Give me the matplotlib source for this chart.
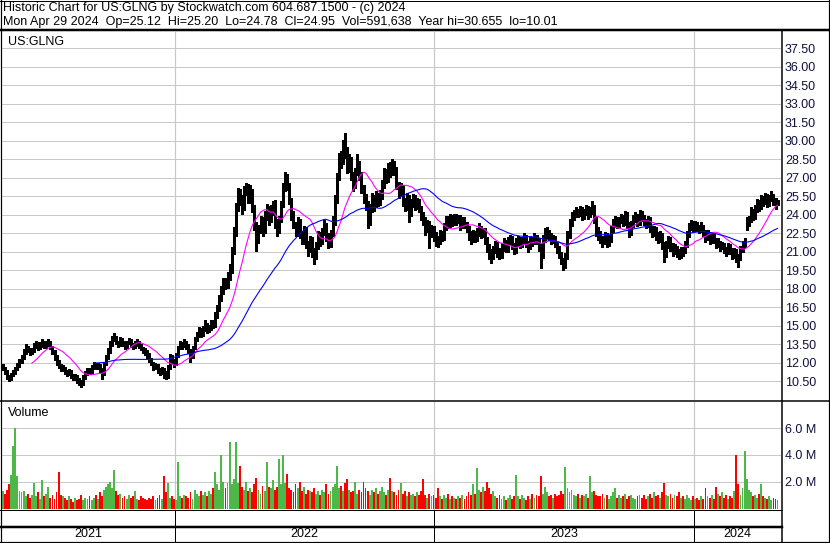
import numpy as np
import pandas as pd
import matplotlib
matplotlib.use('Agg')
import matplotlib.pyplot as plt
from matplotlib.lines import Line2D

plt.rcParams['font.family'] = ['Liberation Sans', 'DejaVu Sans']

# ---------------- text ----------------
title1 = "Historic Chart for US:GLNG by Stockwatch.com 604.687.1500 - (c) 2024"
title2 = ("Mon Apr 29 2024  Op=25.12  Hi=25.20  Lo=24.78  Cl=24.95  "
          "Vol=591,638  Year hi=30.655  lo=10.01")
symbol = "US:GLNG"
vol_title = "Volume"
year_labels = ["2021", "2022", "2023", "2024"]
# entry index (2 trading days per entry) where each new year starts
year_starts = [83.5, 209.2, 335.4]

price_ticks = [10.50, 12.00, 13.50, 15.00, 16.50, 18.00, 19.50, 21.00, 22.50,
               24.00, 25.50, 27.00, 28.50, 30.00, 31.50, 33.00, 34.50, 36.00, 37.50]
vol_ticks = [2.0, 4.0, 6.0]
vol_tick_labels = ["2.0 M", "4.0 M", "6.0 M"]

# ---------------- data (one entry = 2 trading days) ----------------
cl = [11.6, 11.3, 10.9, 10.7, 11.0, 11.2, 11.5, 11.8, 12.1, 12.4,
      12.9, 13.3, 13.1, 12.8, 13.0, 13.4, 13.6, 13.2, 13.5, 13.7,
      13.4, 13.6, 13.7, 13.3, 12.9, 12.4, 12.0, 11.8, 11.5, 11.6,
      11.3, 11.1, 11.3, 11.0, 10.8, 10.9, 10.6, 10.4, 10.3, 10.8,
      11.1, 11.4, 11.3, 11.6, 11.9, 11.7, 11.8, 11.5, 11.0, 11.9,
      12.4, 12.9, 13.5, 13.9, 14.1, 13.7, 13.5, 13.9, 13.6, 13.4,
      13.6, 13.8, 13.5, 13.3, 13.6, 13.7, 13.4, 13.2, 13.0, 12.9,
      12.7, 12.3, 12.0, 11.6, 11.8, 11.4, 11.2, 11.5, 11.0, 10.9,
      11.6, 12.4, 12.2, 11.9, 12.6, 13.2, 13.5, 13.4, 13.7, 13.3,
      13.0, 12.5, 13.2, 13.9, 14.2, 14.6, 14.3, 14.8, 15.1, 14.7,
      14.9, 15.3, 15.0, 15.8, 16.4, 17.2, 17.8, 18.6, 18.3, 19.0,
      19.5, 21.0, 22.5, 24.5, 25.8, 25.2, 24.6, 25.9, 26.3, 25.4,
      25.9, 24.6, 23.2, 22.0, 22.8, 23.5, 22.7, 23.9, 24.5, 23.6,
      24.3, 24.9, 23.4, 22.8, 23.6, 24.8, 26.2, 27.0, 26.4, 25.2,
      24.0, 23.1, 22.6, 23.5, 22.4, 21.9, 22.8, 21.6, 21.2, 22.0,
      21.0, 20.6, 21.5, 22.4, 21.8, 22.6, 23.1, 22.2, 21.7, 22.5,
      23.5, 25.2, 27.0, 28.6, 28.2, 29.6, 29.0, 27.8, 28.4, 27.2,
      26.5, 27.4, 28.0, 27.2, 26.1, 25.4, 24.8, 23.4, 24.5, 25.3,
      24.8, 25.5, 25.0, 25.6, 26.4, 27.3, 27.0, 27.8, 27.5, 28.1,
      27.6, 26.4, 25.8, 26.2, 25.0, 24.7, 25.4, 24.2, 24.9, 25.3,
      24.8, 25.1, 24.5, 24.0, 23.5, 22.8, 23.3, 22.4, 22.9, 22.3,
      22.0, 21.8, 22.5, 22.2, 23.0, 23.6, 23.2, 23.8, 23.4, 23.9,
      23.5, 23.8, 23.1, 23.6, 23.2, 22.9, 22.4, 22.0, 22.5, 22.1,
      22.6, 22.9, 22.4, 22.7, 21.9, 21.3, 20.8, 20.6, 21.2, 21.6,
      21.0, 20.7, 21.4, 21.8, 21.3, 21.9, 22.1, 21.5, 21.2, 21.8,
      22.0, 21.6, 21.9, 22.2, 21.7, 21.4, 22.0, 21.8, 22.2, 21.9,
      21.4, 20.6, 22.0, 22.4, 22.6, 22.3, 21.9, 22.1, 21.7, 21.3,
      20.8, 20.3, 19.9, 20.6, 22.4, 23.3, 23.8, 24.0, 24.3, 24.1,
      24.4, 23.9, 24.2, 24.5, 24.0, 24.3, 24.6, 23.6, 22.6, 22.4,
      22.0, 21.8, 22.3, 21.7, 22.1, 22.8, 23.3, 23.6, 23.2, 23.5,
      23.8, 23.4, 24.0, 23.1, 22.6, 23.2, 23.7, 23.9, 23.4, 24.1,
      23.8, 23.5, 23.2, 23.6, 22.9, 22.5, 22.8, 22.3, 22.0, 22.4,
      21.5, 20.8, 21.6, 22.0, 21.4, 21.0, 21.3, 20.9, 20.7, 21.1,
      21.0, 21.6, 22.4, 23.0, 23.3, 22.9, 23.2, 23.0, 22.8, 23.1,
      22.6, 22.2, 22.5, 21.9, 22.3, 22.0, 21.6, 21.8, 21.4, 21.5,
      21.2, 21.0, 21.4, 21.1, 20.7, 21.0, 20.5, 20.4, 21.2, 21.6,
      21.8, 23.3, 23.6, 24.2, 23.9, 24.4, 24.9, 24.6, 25.2, 25.0,
      25.4, 24.9, 25.3, 25.5, 25.1, 24.8, 24.95]

hi = [11.9, 11.7, 11.4, 11.0, 11.2, 11.4, 11.7, 12.0, 12.3, 12.6,
      13.1, 13.5, 13.4, 13.2, 13.2, 13.6, 13.8, 13.7, 13.7, 13.9,
      13.8, 13.8, 13.9, 13.8, 13.4, 13.0, 12.6, 12.2, 11.9, 11.8,
      11.7, 11.4, 11.5, 11.4, 11.1, 11.1, 11.0, 10.8, 10.6, 11.0,
      11.3, 11.6, 11.6, 11.8, 12.1, 12.0, 12.0, 11.9, 11.6, 12.1,
      12.6, 13.2, 13.8, 14.2, 14.4, 14.2, 13.8, 14.1, 14.0, 13.8,
      13.8, 14.0, 13.9, 13.6, 13.8, 13.9, 13.8, 13.5, 13.3, 13.2,
      13.0, 12.8, 12.4, 12.1, 12.0, 11.9, 11.6, 11.7, 11.6, 11.3,
      11.8, 12.7, 12.6, 12.3, 12.8, 13.4, 13.8, 13.7, 13.9, 13.8,
      13.5, 13.1, 13.4, 14.1, 14.5, 14.9, 14.8, 15.0, 15.5, 15.2,
      15.1, 15.5, 15.5, 16.1, 16.7, 17.5, 18.2, 18.9, 18.9, 19.4,
      20.0, 21.4, 23.0, 25.0, 26.2, 26.1, 25.6, 26.3, 26.6, 26.5,
      26.4, 26.1, 24.8, 23.4, 23.2, 23.9, 23.8, 24.3, 24.9, 24.7,
      24.8, 25.1, 25.2, 23.7, 23.9, 25.1, 26.6, 27.5, 27.3, 26.6,
      25.4, 24.3, 23.4, 23.8, 23.7, 22.7, 23.1, 23.0, 21.9, 22.3,
      22.2, 21.3, 21.8, 22.7, 22.6, 22.9, 23.6, 23.3, 22.5, 22.8,
      23.9, 25.6, 27.4, 29.0, 29.2, 30.1, 30.65, 29.5, 28.9, 28.7,
      27.5, 27.8, 28.9, 28.4, 27.5, 26.4, 25.7, 25.1, 24.9, 25.8,
      25.6, 25.9, 25.8, 26.0, 26.8, 27.8, 27.7, 28.2, 28.3, 28.5,
      28.4, 27.9, 26.7, 26.6, 26.4, 25.4, 25.8, 25.6, 25.3, 25.7,
      25.6, 25.4, 25.3, 24.7, 24.2, 23.8, 23.6, 23.5, 23.2, 23.1,
      22.6, 22.3, 22.8, 22.7, 23.3, 23.9, 23.9, 24.1, 24.0, 24.1,
      24.1, 24.0, 24.0, 23.8, 23.8, 23.4, 23.1, 22.7, 22.8, 22.7,
      22.9, 23.3, 23.1, 22.9, 22.9, 22.2, 21.6, 21.2, 21.5, 21.9,
      21.8, 21.3, 21.7, 22.1, 22.0, 22.2, 22.4, 22.3, 21.7, 22.1,
      22.3, 22.2, 22.2, 22.5, 22.4, 21.9, 22.3, 22.2, 22.5, 22.4,
      22.1, 21.6, 22.4, 22.9, 23.0, 22.8, 22.5, 22.4, 22.3, 21.9,
      21.5, 21.0, 20.5, 20.9, 22.7, 23.7, 24.2, 24.4, 24.6, 24.5,
      24.7, 24.6, 24.5, 24.8, 24.7, 24.6, 25.1, 24.8, 23.8, 23.0,
      22.7, 22.3, 22.6, 22.5, 22.4, 23.1, 23.7, 23.9, 23.8, 23.8,
      24.1, 24.0, 24.3, 24.2, 23.4, 23.5, 24.0, 24.2, 24.1, 24.4,
      24.3, 24.0, 23.7, 23.9, 23.8, 23.1, 23.1, 23.0, 22.6, 22.7,
      22.5, 21.8, 21.9, 22.3, 22.2, 21.7, 21.6, 21.5, 21.2, 21.4,
      21.4, 21.9, 22.7, 23.3, 23.6, 23.5, 23.5, 23.4, 23.2, 23.4,
      23.2, 22.8, 22.8, 22.6, 22.5, 22.5, 22.1, 22.1, 21.9, 21.8,
      21.7, 21.4, 21.7, 21.6, 21.3, 21.3, 21.2, 20.8, 21.5, 21.9,
      22.1, 23.8, 23.9, 24.6, 24.5, 24.8, 25.3, 25.2, 25.6, 25.5,
      25.8, 25.7, 25.6, 25.9, 25.7, 25.4, 25.2]

lo = [11.4, 11.1, 10.7, 10.5, 10.6, 10.9, 11.1, 11.4, 11.7, 12.0,
      12.3, 12.7, 12.9, 12.6, 12.7, 12.9, 13.2, 13.0, 13.1, 13.3,
      13.2, 13.2, 13.4, 13.1, 12.7, 12.2, 11.8, 11.6, 11.3, 11.3,
      11.1, 10.9, 11.0, 10.8, 10.6, 10.6, 10.4, 10.2, 10.01, 10.2,
      10.7, 11.0, 11.1, 11.2, 11.5, 11.5, 11.5, 11.2, 10.7, 11.0,
      11.8, 12.3, 12.8, 13.4, 13.8, 13.5, 13.3, 13.4, 13.4, 13.1,
      13.2, 13.5, 13.3, 13.1, 13.2, 13.4, 13.2, 13.0, 12.8, 12.6,
      12.4, 12.1, 11.8, 11.4, 11.5, 11.2, 11.0, 11.1, 10.8, 10.7,
      10.8, 11.5, 12.0, 11.7, 11.8, 12.5, 13.1, 13.1, 13.3, 13.1,
      12.8, 12.1, 12.4, 13.1, 13.8, 14.1, 14.1, 14.2, 14.6, 14.4,
      14.5, 14.7, 14.8, 14.9, 15.6, 16.2, 17.0, 17.6, 18.0, 18.1,
      18.7, 19.3, 20.8, 22.3, 24.3, 24.8, 24.1, 24.4, 25.6, 25.0,
      25.0, 24.2, 22.8, 21.1, 21.7, 22.5, 22.3, 22.5, 23.6, 23.2,
      23.4, 24.0, 22.9, 22.3, 22.5, 23.4, 24.6, 25.9, 26.0, 24.9,
      23.6, 22.9, 22.3, 22.3, 22.1, 21.6, 21.6, 21.3, 20.7, 21.0,
      20.6, 20.0, 20.4, 21.2, 21.5, 21.6, 22.4, 21.9, 21.3, 21.4,
      22.3, 23.2, 25.0, 26.8, 27.8, 28.1, 28.6, 27.4, 27.5, 26.8,
      25.9, 26.2, 27.2, 26.8, 25.8, 25.0, 24.4, 22.9, 23.2, 24.2,
      24.3, 24.6, 24.7, 24.8, 25.3, 26.2, 26.6, 26.7, 27.1, 27.2,
      27.2, 26.1, 25.4, 25.5, 24.7, 24.3, 24.4, 23.4, 23.9, 24.6,
      24.4, 24.5, 24.2, 23.6, 23.2, 22.4, 22.6, 21.3, 22.2, 21.9,
      21.5, 21.4, 21.6, 21.9, 22.0, 22.8, 22.9, 23.0, 23.1, 23.2,
      23.2, 23.3, 22.8, 22.9, 22.9, 22.6, 22.0, 21.6, 21.8, 21.8,
      21.9, 22.3, 22.1, 22.2, 21.6, 21.0, 20.4, 20.1, 20.4, 20.9,
      20.6, 20.4, 20.5, 21.1, 21.0, 21.0, 21.6, 21.2, 20.8, 20.9,
      21.5, 21.3, 21.4, 21.7, 21.4, 21.0, 21.2, 21.5, 21.6, 21.6,
      21.1, 19.7, 20.5, 21.8, 22.1, 22.0, 21.6, 21.7, 21.4, 20.9,
      20.5, 20.0, 19.5, 19.7, 20.4, 22.1, 23.1, 23.6, 23.8, 23.8,
      23.9, 23.6, 23.7, 24.0, 23.7, 23.8, 24.1, 23.3, 22.3, 22.0,
      21.7, 21.4, 21.6, 21.4, 21.5, 21.8, 22.6, 23.0, 22.9, 23.0,
      23.3, 23.1, 23.2, 22.9, 22.2, 22.4, 23.0, 23.4, 23.1, 23.2,
      23.5, 23.2, 22.9, 23.0, 22.6, 22.2, 22.3, 22.0, 21.7, 21.8,
      21.2, 20.2, 20.6, 21.3, 21.1, 20.7, 20.8, 20.6, 20.4, 20.5,
      20.7, 20.9, 21.4, 22.2, 22.8, 22.6, 22.7, 22.7, 22.5, 22.6,
      22.3, 21.8, 22.0, 21.6, 21.7, 21.7, 21.3, 21.4, 21.1, 21.2,
      20.9, 20.7, 20.8, 20.8, 20.4, 20.5, 20.2, 19.8, 20.3, 21.0,
      21.4, 22.8, 23.1, 23.4, 23.6, 23.7, 24.2, 24.3, 24.5, 24.7,
      24.9, 24.6, 24.7, 25.1, 24.8, 24.5, 24.78]

vol = [1.3, 1.1, 1.4, 1.8, 2.5, 4.7, 6.0, 2.4, 1.3, 1.2,
       1.3, 0.9, 1.1, 0.8, 1.0, 1.9, 0.9, 1.2, 0.7, 2.1,
       0.9, 1.1, 1.6, 0.8, 1.0, 0.7, 1.2, 2.7, 1.0, 0.9,
       0.8, 0.6, 0.9, 0.7, 0.5, 0.8, 0.6, 0.7, 1.0, 0.6,
       0.8, 0.7, 0.9, 0.6, 0.8, 1.0, 0.7, 1.2, 0.9, 1.4,
       1.6, 1.8, 2.0, 1.5, 2.9, 1.3, 1.0, 1.1, 0.8, 0.9,
       0.7, 1.0, 0.8, 0.9, 1.3, 0.7, 0.6, 0.9, 0.8, 0.7,
       0.6, 0.8, 0.7, 0.9, 0.6, 0.8, 1.0, 0.7, 2.4, 1.2,
       1.9, 0.8, 0.9, 0.7, 0.6, 3.5, 0.9, 0.8, 1.0, 0.9,
       0.8, 1.2, 0.7, 1.4, 1.1, 0.9, 1.3, 1.0, 1.2, 0.9,
       1.3, 1.1, 1.5, 2.7, 1.8, 1.4, 4.0, 2.0, 1.5, 1.9,
       5.0, 1.8, 2.2, 5.0, 1.9, 3.2, 1.6, 1.4, 2.0, 1.3,
       1.5, 1.2, 1.8, 2.3, 1.4, 1.1, 1.7, 1.3, 3.5, 1.6,
       1.5, 2.1, 1.4, 1.6, 3.7, 1.8, 4.0, 1.9, 2.6, 1.5,
       1.4, 1.2, 1.8, 1.5, 2.0, 1.3, 1.6, 1.1, 1.4, 1.3,
       1.2, 1.5, 1.1, 1.3, 1.0, 1.4, 1.2, 1.8, 1.1, 1.3,
       1.6, 1.8, 3.2, 1.5, 1.7, 1.3, 1.9, 2.2, 1.4, 1.2,
       1.3, 2.0, 1.1, 1.4, 1.2, 2.0, 1.5, 1.3, 1.0, 1.4,
       1.2, 1.5, 1.1, 1.3, 1.6, 1.2, 1.0, 1.4, 2.3, 1.3,
       1.2, 1.0, 1.4, 1.9, 1.1, 1.3, 0.9, 1.2, 1.0, 1.1,
       0.9, 1.2, 1.0, 1.3, 2.2, 1.0, 0.8, 1.1, 0.9, 1.0,
       0.8, 1.5, 0.9, 0.7, 1.0, 0.8, 1.1, 0.7, 0.9, 0.8,
       0.7, 0.9, 0.8, 1.0, 0.7, 0.9, 1.2, 1.0, 1.8, 1.1,
       3.0, 1.4, 1.2, 1.6, 1.3, 2.0, 1.5, 1.1, 1.3, 0.9,
       0.8, 1.0, 0.7, 0.9, 0.6, 0.8, 1.0, 0.7, 0.9, 2.5,
       0.9, 0.7, 1.0, 0.8, 0.6, 0.9, 0.7, 1.1, 0.8, 1.0,
       0.9, 2.4, 1.1, 1.6, 1.2, 0.9, 1.0, 0.8, 1.1, 0.9,
       1.0, 1.3, 1.1, 3.1, 1.5, 1.2, 1.4, 1.0, 0.9, 1.1,
       0.8, 1.0, 0.9, 1.1, 0.8, 2.4, 1.2, 1.3, 1.0, 0.9,
       0.9, 1.1, 0.8, 1.0, 0.7, 0.9, 1.2, 1.5, 0.8, 1.0,
       0.8, 0.9, 1.1, 0.7, 0.9, 1.0, 0.8, 0.7, 0.9, 1.0,
       0.8, 1.0, 0.7, 0.9, 1.1, 0.8, 1.2, 0.9, 1.0, 0.8,
       1.2, 1.9, 1.0, 0.9, 1.1, 0.8, 1.0, 0.9, 1.2, 0.8,
       0.9, 0.7, 1.0, 0.8, 0.6, 0.9, 0.7, 0.8, 0.6, 0.9,
       0.7, 1.5, 0.9, 0.8, 1.0, 0.7, 1.6, 1.1, 0.9, 1.2,
       0.8, 1.0, 0.7, 0.9, 0.8, 1.3, 4.0, 1.8, 1.0, 1.5,
       4.3, 2.2, 1.4, 1.2, 0.9, 1.0, 0.8, 1.1, 1.8, 0.9,
       0.8, 0.7, 0.9, 0.6, 0.8, 0.7, 0.6]

n = min(len(cl), len(hi), len(lo), len(vol))
cl = np.array(cl[:n]); hi = np.array(hi[:n]); lo = np.array(lo[:n]); vol = np.array(vol[:n])
x = np.arange(n)

ma_fast = pd.Series(cl).rolling(15).mean()
ma_slow = pd.Series(cl).rolling(45).mean()

chg = np.diff(cl, prepend=cl[0] - 0.1)
GREEN, RED = '#4DB848', '#FF0000'
vcolors = [GREEN if c >= 0 else RED for c in chg]

# ---------------- layout (pixel based) ----------------
W, H = 830, 543
fig = plt.figure(figsize=(W / 100, H / 100), dpi=100)
fig.patch.set_facecolor('white')

def rect(x0, y0, x1, y1):
    return [x0 / W, 1 - y1 / H, (x1 - x0) / W, (y1 - y0) / H]

PX = 0.72  # points per pixel
GRID = '#C8C8C8'
TICKC = '#101040'
FS = 9

# pixel of entry i: 3 + 2.06*i
def xl(px):
    return (px - 3) / 2.06

xlim = (xl(2), xl(781))

# price panel
ax_p = fig.add_axes(rect(2, 31.5, 781, 400))
ax_p.set_xlim(*xlim)
def ypx(pix):
    return 10.5 + (381.3 - pix) / 12.33
ax_p.set_ylim(ypx(400), ypx(31.5))
for y in price_ticks:
    ax_p.axhline(y, color=GRID, lw=1 * PX, zorder=0)
for xs in year_starts:
    ax_p.axvline(xs, color=GRID, lw=1.2 * PX, zorder=0)
ax_p.vlines(x, lo, hi, color='black', lw=1.4 * PX, zorder=2, antialiased=False)
ax_p.plot(x, ma_fast, color='#FF00FF', lw=1.1 * PX, zorder=3)
ax_p.plot(x, ma_slow, color='#0000FF', lw=1.1 * PX, zorder=3)
ax_p.yaxis.tick_right()
ax_p.set_yticks(price_ticks)
ax_p.set_yticklabels([f"{t:.2f}" for t in price_ticks])
ax_p.tick_params(axis='y', length=0, pad=4 * PX, labelsize=FS, labelcolor=TICKC)
ax_p.set_xticks([])
for s in ax_p.spines.values():
    s.set_visible(False)
ax_p.text(6 / 779, 1 - (42 - 31.5) / 368.5, symbol, transform=ax_p.transAxes,
          ha='left', va='center', fontsize=FS, color='black')

# volume panel
ax_v = fig.add_axes(rect(2, 402, 781, 509.5))
ax_v.set_xlim(*xlim)
ax_v.set_ylim(-(509.5 - 508.5) / 13.4, (508.5 - 402) / 13.4)
for y in vol_ticks:
    ax_v.axhline(y, color=GRID, lw=1 * PX, zorder=0)
for xs in year_starts:
    ax_v.axvline(xs, color=GRID, lw=1.2 * PX, zorder=0)
ax_v.bar(x, vol, width=0.9, bottom=0, color=vcolors, linewidth=0, zorder=2,
         antialiased=False)
ax_v.yaxis.tick_right()
ax_v.set_yticks(vol_ticks)
ax_v.set_yticklabels(vol_tick_labels)
ax_v.tick_params(axis='y', length=0, pad=4 * PX, labelsize=FS, labelcolor=TICKC)
ax_v.set_xticks([])
for s in ax_v.spines.values():
    s.set_visible(False)
ax_v.text(6 / 779, 1 - (413 - 402) / 107.5, vol_title, transform=ax_v.transAxes,
          ha='left', va='center', fontsize=FS, color='black')

# date strip
ax_s = fig.add_axes(rect(2, 510, 781, 541.5))
ax_s.set_xlim(*xlim)
ax_s.set_ylim(0, 1)
ax_s.axis('off')
for xs in year_starts:
    ax_s.axvline(xs, color='black', lw=1 * PX)
bounds = [xlim[0]] + year_starts + [xlim[1]]
for k, lab in enumerate(year_labels):
    ax_s.text((bounds[k] + bounds[k + 1]) / 2, (541.5 - 534) / 31.5, lab,
              ha='center', va='center', fontsize=FS, color='black')

# frame lines (figure pixel coordinates)
def hline(y, x0, x1, lw):
    fig.add_artist(Line2D([x0 / W, x1 / W], [1 - y / H, 1 - y / H],
                          transform=fig.transFigure, color='black', lw=lw * PX))

def vline(xp, y0, y1, lw):
    fig.add_artist(Line2D([xp / W, xp / W], [1 - y0 / H, 1 - y1 / H],
                          transform=fig.transFigure, color='black', lw=lw * PX))

hline(0.5, 0, W, 1)
hline(30, 0, W, 2.5)
hline(400.8, 0, W, 1.5)
hline(509.8, 0, 782, 1)
hline(526.5, 0, 782, 2.5)
hline(541.8, 0, W, 1.2)
vline(0.6, 0, H, 1.2)
vline(829.4, 0, H, 1.2)
vline(781.6, 30, 542, 1.5)

fig.text(3 / W, 1 - 8.5 / H, title1, ha='left', va='center', fontsize=FS, color='black')
fig.text(3 / W, 1 - 22.5 / H, title2, ha='left', va='center', fontsize=FS, color='black')

fig.savefig('out.png', dpi=100, facecolor='white')
